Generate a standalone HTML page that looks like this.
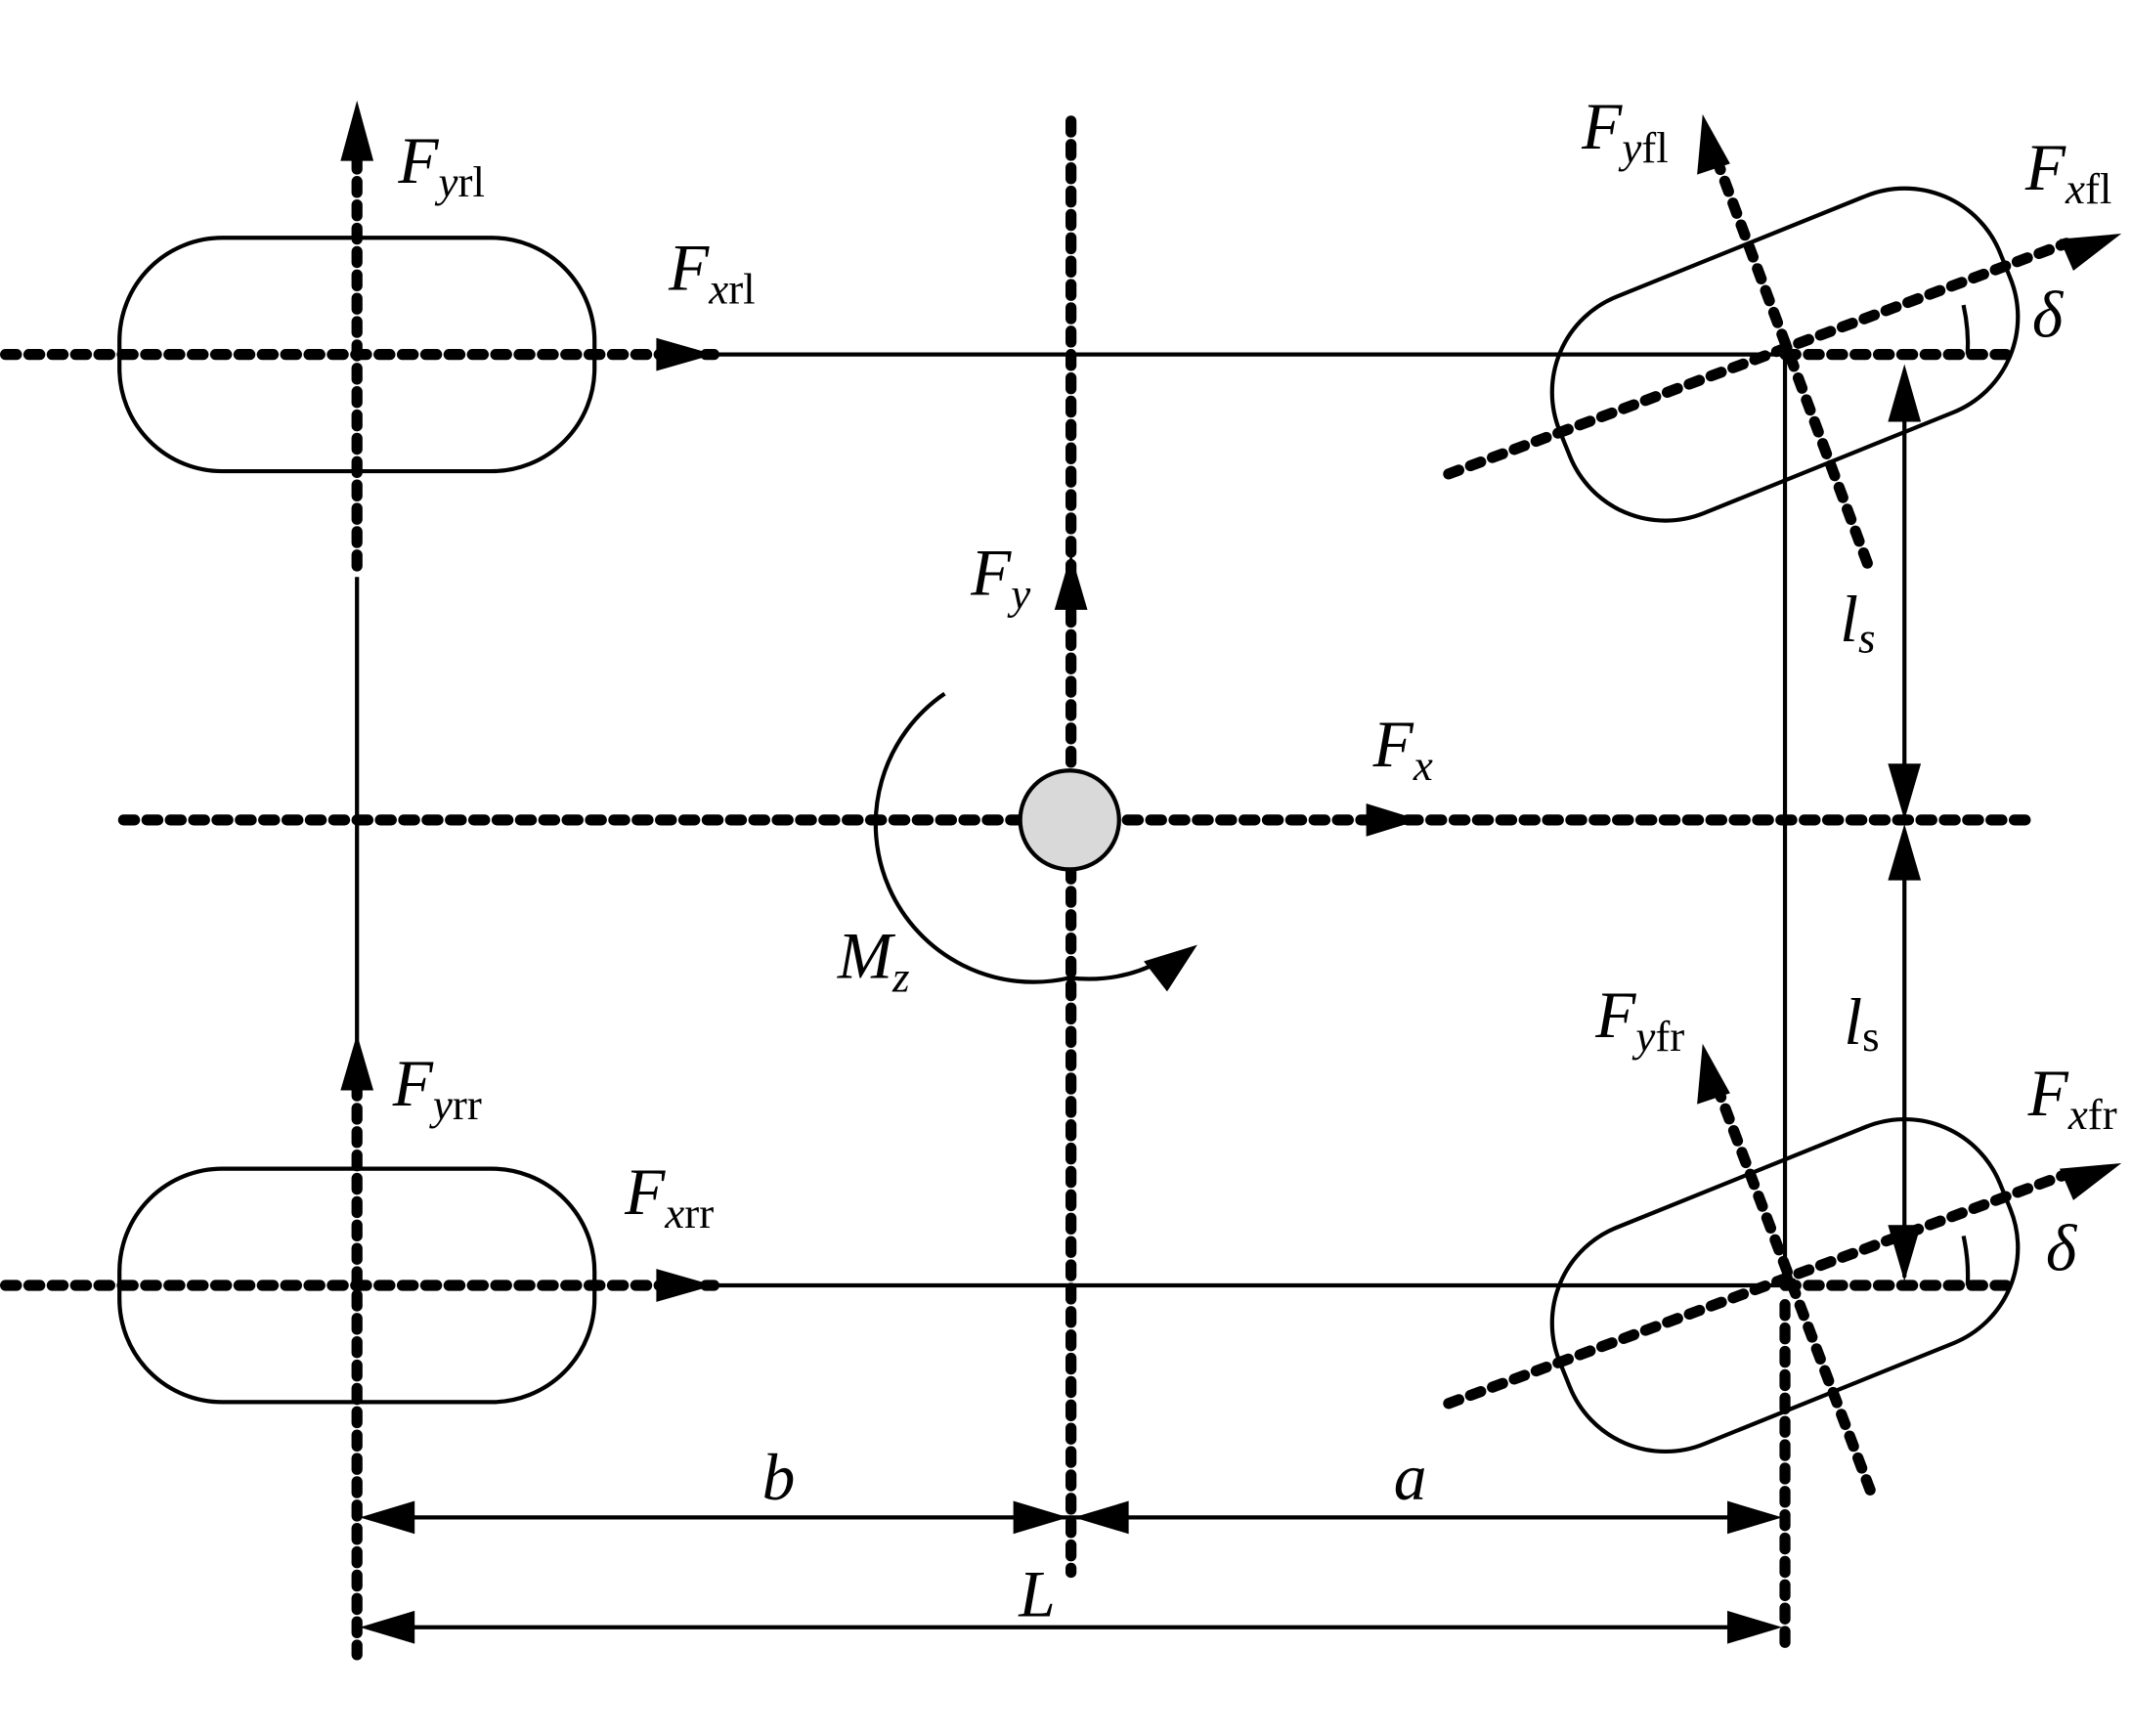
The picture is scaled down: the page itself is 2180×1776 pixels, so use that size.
<!DOCTYPE html>
<html><head><style>html,body{margin:0;padding:0;background:#fff}svg{display:block}
text{font-family:"Liberation Serif",serif;fill:#000}</style></head><body>
<svg width="2180" height="1776" viewBox="0 0 1552 1264" xmlns="http://www.w3.org/2000/svg">
<g fill="none" stroke="#000">
<rect x="87" y="173" width="346" height="170" rx="75" ry="75" stroke-width="3"/>
<rect x="87" y="851" width="346" height="170" rx="75" ry="75" stroke-width="3"/>
<rect x="-173" y="-85" width="346" height="170" rx="75" ry="75" stroke-width="3" transform="translate(1300,258) rotate(-22)"/>
<rect x="-173" y="-85" width="346" height="170" rx="75" ry="75" stroke-width="3" transform="translate(1300,936) rotate(-22)"/>
<g stroke-width="3">
<line x1="520" y1="258" x2="1300" y2="258"/>
<line x1="520" y1="936" x2="1300" y2="936"/>
<line x1="260" y1="420" x2="260" y2="790"/>
<line x1="1300" y1="258" x2="1300" y2="940"/>
<line x1="1387" y1="270" x2="1387" y2="590"/>
<line x1="1387" y1="605" x2="1387" y2="930"/>
<line x1="270" y1="1105" x2="1290" y2="1105"/>
<line x1="270" y1="1185" x2="1290" y2="1185"/>
<path d="M688,505 A115,115 0 0 0 779,712 Q815,716 845,700"/>
<path d="M1430,222 Q1434,240 1433,258"/>
<path d="M1430,900 Q1434,918 1433,936"/>
</g>
<g stroke-width="8" stroke-linecap="round" stroke-dasharray="8 9">
<line x1="4" y1="258" x2="520" y2="258"/>
<line x1="4" y1="936" x2="520" y2="936"/>
<line x1="260" y1="115" x2="260" y2="420"/>
<line x1="260" y1="790" x2="260" y2="1205"/>
<line x1="780" y1="88" x2="780" y2="1145"/>
<line x1="90" y1="597" x2="1480" y2="597"/>
<line x1="1300" y1="950" x2="1300" y2="1205"/>
<line x1="1300" y1="258" x2="1465" y2="258"/>
<line x1="1300" y1="936" x2="1465" y2="936"/>
<line x1="1055" y1="345" x2="1505" y2="177"/>
<line x1="1360" y1="410" x2="1248" y2="110"/>
<line x1="1055" y1="1022" x2="1505" y2="855"/>
<line x1="1362" y1="1085" x2="1250" y2="790"/>
</g>
</g>
<circle cx="779" cy="597" r="36" fill="#d9d9d9" stroke="#000" stroke-width="3"/>
<g fill="#000">
<polygon points="260,73 248,117 272,117"/>
<polygon points="260,753 248,794 272,794"/>
<polygon points="780,403 768,444 792,444"/>
<polygon points="520,258 478,246 478,270"/>
<polygon points="520,936 478,924 478,948"/>
<polygon points="1034,597 995,585 995,609"/>
<polygon points="1545,170 1500,174 1510,197"/>
<polygon points="1240,83 1236,127 1260,119"/>
<polygon points="1545,847 1500,851 1510,874"/>
<polygon points="1240,760 1236,804 1260,796"/>
<polygon points="872,688 833,700 850,722"/>
<polygon points="1387,265 1375,307 1399,307"/>
<polygon points="1387,597 1375,556 1399,556"/>
<polygon points="1387,600 1375,641 1399,641"/>
<polygon points="1387,933 1375,892 1399,892"/>
<polygon points="262,1105 302,1093 302,1117"/>
<polygon points="778,1105 738,1093 738,1117"/>
<polygon points="782,1105 822,1093 822,1117"/>
<polygon points="1298,1105 1258,1093 1258,1117"/>
<polygon points="262,1185 302,1173 302,1197"/>
<polygon points="1298,1185 1258,1173 1258,1197"/>
</g>
<g font-size="48">
<text x="290" y="133"><tspan font-style="italic">F</tspan><tspan font-size="32" dy="10"><tspan font-style="italic">y</tspan>rl</tspan></text>
<text x="487" y="211"><tspan font-style="italic">F</tspan><tspan font-size="32" dy="10"><tspan font-style="italic">x</tspan>rl</tspan></text>
<text x="707" y="433"><tspan font-style="italic">F</tspan><tspan font-size="32" dy="10" font-style="italic">y</tspan></text>
<text x="1000" y="558"><tspan font-style="italic">F</tspan><tspan font-size="32" dy="10" font-style="italic">x</tspan></text>
<text x="610" y="712"><tspan font-style="italic">M</tspan><tspan font-size="32" dy="10" font-style="italic">z</tspan></text>
<text x="286" y="805"><tspan font-style="italic">F</tspan><tspan font-size="32" dy="10"><tspan font-style="italic">y</tspan>rr</tspan></text>
<text x="455" y="884"><tspan font-style="italic">F</tspan><tspan font-size="32" dy="10"><tspan font-style="italic">x</tspan>rr</tspan></text>
<text x="555" y="1092" font-style="italic">b</text>
<text x="1015" y="1092" font-style="italic">a</text>
<text x="742" y="1177" font-style="italic">L</text>
<text x="1152" y="108"><tspan font-style="italic">F</tspan><tspan font-size="32" dy="10"><tspan font-style="italic">y</tspan>fl</tspan></text>
<text x="1475" y="138"><tspan font-style="italic">F</tspan><tspan font-size="32" dy="10"><tspan font-style="italic">x</tspan>fl</tspan></text>
<text x="1480" y="245" font-style="italic">δ</text>
<text x="1490" y="925" font-style="italic">δ</text>
<text x="1340" y="467"><tspan font-style="italic">l</tspan><tspan font-size="32" dy="8" font-style="italic">s</tspan></text>
<text x="1343" y="760"><tspan font-style="italic">l</tspan><tspan font-size="32" dy="5">s</tspan></text>
<text x="1162" y="755"><tspan font-style="italic">F</tspan><tspan font-size="32" dy="10"><tspan font-style="italic">y</tspan>fr</tspan></text>
<text x="1477" y="812"><tspan font-style="italic">F</tspan><tspan font-size="32" dy="10"><tspan font-style="italic">x</tspan>fr</tspan></text>
</g>
</svg>
</body></html>
